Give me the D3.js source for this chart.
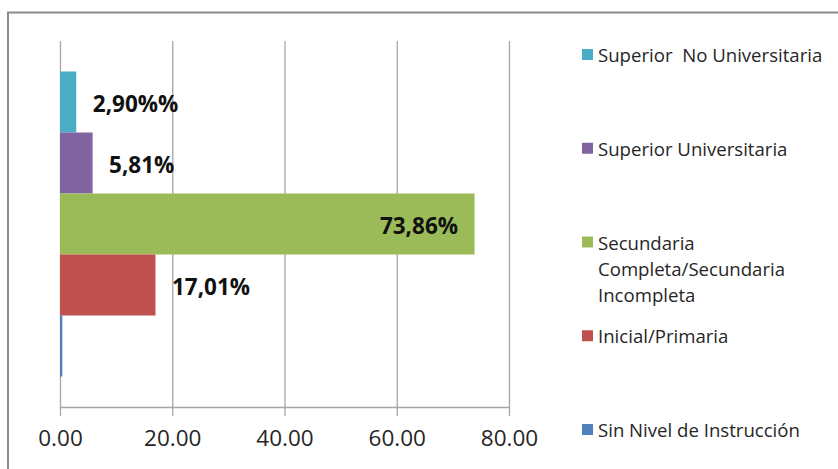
<!DOCTYPE html>
<html>
<head>
<meta charset="utf-8">
<script src="https://cdn.jsdelivr.net/npm/d3@7"></script>
<style>
  html, body { margin: 0; padding: 0; background: #fff; }
  svg { display: block; }
</style>
</head>
<body>
<svg id="chart" width="838" height="469"></svg>
<script>
// Nivel de instrucción (%), listed top to bottom as drawn
const series = [
  "Superior  No Universitaria",
  "Superior Universitaria",
  "Secundaria Completa/Secundaria Incompleta",
  "Inicial/Primaria",
  "Sin Nivel de Instrucción"
];
const values = [2.90, 5.81, 73.86, 17.01, 0.42];
const valueLabels = ["2,90%%", "5,81%", "73,86%", "17,01%", null];
const colors = ["#4BACC6", "#8064A2", "#9BBB59", "#C0504D", "#4F81BD"];
const tickValues = [0, 20, 40, 60, 80];

const svg = d3.select("#chart");
const font = "'Open Sans', 'Noto Sans', sans-serif";

// chart frame (runs off the right and bottom edges)
svg.append("rect")
  .attr("x", 8).attr("y", 12.5)
  .attr("width", 860).attr("height", 500)
  .attr("fill", "#fff")
  .attr("stroke", "#8a8a8a")
  .attr("stroke-width", 2);

const plot = { left: 60, right: 509, top: 41, bottom: 407 };

const x = d3.scaleLinear().domain([0, 80]).range([plot.left, plot.right]);
const y = d3.scaleBand().domain(series)
  .range([plot.top, plot.bottom])
  .paddingInner(0).paddingOuter(0.5);

// vertical gridlines
svg.append("g")
  .selectAll("line")
  .data(tickValues)
  .join("line")
  .attr("x1", d => x(d) + 0.5).attr("x2", d => x(d) + 0.5)
  .attr("y1", plot.top).attr("y2", plot.bottom)
  .attr("stroke", "#a6a6a6").attr("stroke-width", 1.3);

// bars
svg.append("g")
  .selectAll("rect")
  .data(series)
  .join("rect")
  .attr("x", x(0))
  .attr("y", d => y(d))
  .attr("width", (d, i) => x(values[i]) - x(0))
  .attr("height", y.bandwidth())
  .attr("fill", (d, i) => colors[i]);

// x axis
const axis = svg.append("g")
  .attr("transform", `translate(0,${plot.bottom})`)
  .call(d3.axisBottom(x).tickValues(tickValues).tickFormat(d3.format(".2f"))
    .tickSize(9).tickPadding(14));
axis.select(".domain").attr("stroke", "#a6a6a6").attr("stroke-width", 1.3)
  .attr("d", `M${plot.left},0.5H${plot.right}`);
axis.selectAll(".tick line").attr("stroke", "#a6a6a6").attr("stroke-width", 1.3)
  .attr("y1", -0.5);
axis.selectAll(".tick text")
  .attr("font-family", font).attr("font-size", 22.5)
  .attr("fill", "#262626");

// value labels: outside the bar end, or inside the end for the long bar
const pad = 16.5;
svg.append("g")
  .selectAll("text")
  .data(series.map((s, i) => ({ s, v: values[i], t: valueLabels[i] })).filter(d => d.t))
  .join("text")
  .attr("x", d => d.v > 50 ? x(d.v) - pad : x(d.v) + pad)
  .attr("y", d => y(d.s) + y.bandwidth() / 2 + 10)
  .attr("text-anchor", d => d.v > 50 ? "end" : "start")
  .attr("font-family", font).attr("font-size", 22.5).attr("font-weight", "bold")
  .attr("fill", "#111")
  .text(d => d.t);

// legend
const legendY = d3.scaleLinear().domain([0, series.length - 1]).range([62, 437]);
const legend = svg.append("g");
const maxW = 236;
series.forEach((s, i) => {
  const g = legend.append("g");
  const base = legendY(i);
  g.append("rect")
    .attr("x", 582).attr("y", base - 13)
    .attr("width", 11).attr("height", 11)
    .attr("fill", colors[i]);
  const text = g.append("text")
    .attr("x", 598).attr("y", base)
    .attr("font-family", font).attr("font-size", 18.6)
    .attr("fill", "#262626")
    .style("white-space", "pre");
  // wrap words to the legend width
  const words = s.split(" ");
  let line = [];
  let tspan = text.append("tspan").attr("x", 598).attr("dy", 0);
  words.forEach(w => {
    line.push(w);
    tspan.text(line.join(" "));
    if (tspan.node().getComputedTextLength() > maxW && line.length > 1) {
      line.pop();
      tspan.text(line.join(" "));
      line = [w];
      tspan = text.append("tspan").attr("x", 598).attr("dy", 26).text(w);
    }
  });
});
</script>
</body>
</html>
